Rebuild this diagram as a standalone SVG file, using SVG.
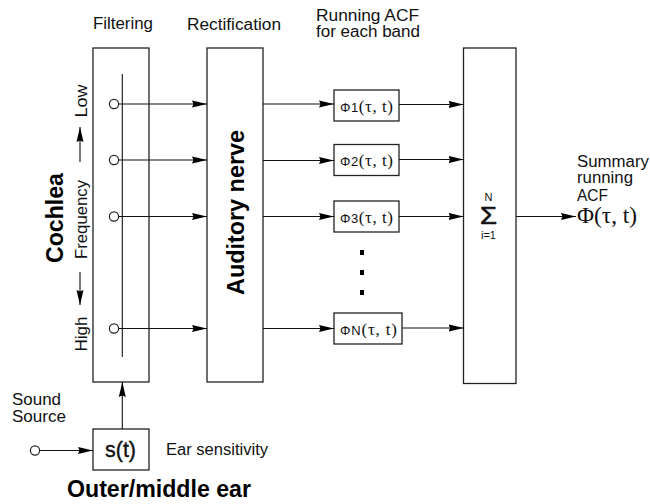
<svg xmlns="http://www.w3.org/2000/svg" width="650" height="504" viewBox="0 0 650 504">
<style>
.box{fill:#fff;stroke:#222;stroke-width:1.3}
.ln{stroke:#111;stroke-width:1.1;fill:none}
.cir{fill:#fff;stroke:#222;stroke-width:1.2}
.t{font-family:"Liberation Sans",Arial,sans-serif;font-size:16px;fill:#111}
.b{font-family:"Liberation Sans",Arial,sans-serif;font-weight:bold;font-size:23px;fill:#000}
.sf{font-family:"Liberation Sans",Arial,sans-serif;fill:#111}
.se{font-family:"Liberation Serif","Times New Roman",serif;fill:#111}
</style>
<defs>
<marker id="ah" viewBox="0 0 15 9" refX="15" refY="4.5" markerWidth="15" markerHeight="9" orient="auto" markerUnits="userSpaceOnUse">
<path d="M0,1 L15,4.5 L0,8 L1.5,4.5 z" fill="#000"/>
</marker>
</defs>
<rect width="650" height="504" fill="#fff"/>

<g id="labels">
<text class="t" x="93" y="29" textLength="60" lengthAdjust="spacingAndGlyphs">Filtering</text>
<text class="t" x="187" y="30" textLength="94" lengthAdjust="spacingAndGlyphs">Rectification</text>
<text class="t" x="316" y="20.5" textLength="103" lengthAdjust="spacingAndGlyphs">Running ACF</text>
<text class="t" x="316" y="37" textLength="104" lengthAdjust="spacingAndGlyphs">for each band</text>
<text class="t" x="577" y="166.5" textLength="72" lengthAdjust="spacingAndGlyphs">Summary</text>
<text class="t" x="577" y="183" textLength="56" lengthAdjust="spacingAndGlyphs">running</text>
<text class="t" x="577" y="201" textLength="31" lengthAdjust="spacingAndGlyphs">ACF</text>
<text class="se" x="577" y="222.5" font-size="23" textLength="60" lengthAdjust="spacingAndGlyphs">Φ(τ, t)</text>
<text class="b" transform="translate(62.5,218) rotate(-90)" text-anchor="middle" textLength="90" lengthAdjust="spacingAndGlyphs">Cochlea</text>
<text class="t" transform="translate(87.3,101) rotate(-90)" text-anchor="middle" font-size="15.5" textLength="33" lengthAdjust="spacingAndGlyphs">Low</text>
<text class="t" transform="translate(87.3,219.5) rotate(-90)" text-anchor="middle" font-size="15.5" textLength="79" lengthAdjust="spacingAndGlyphs">Frequency</text>
<text class="t" transform="translate(87.3,334) rotate(-90)" text-anchor="middle" font-size="15.5" textLength="35" lengthAdjust="spacingAndGlyphs">High</text>
<text class="t" x="12" y="404.5" textLength="49" lengthAdjust="spacingAndGlyphs">Sound</text>
<text class="t" x="12" y="421.5" textLength="54" lengthAdjust="spacingAndGlyphs">Source</text>
<text class="t" x="166" y="455" textLength="102" lengthAdjust="spacingAndGlyphs">Ear sensitivity</text>
<text class="b" x="67" y="497" font-size="22" textLength="184" lengthAdjust="spacingAndGlyphs">Outer/middle ear</text>
</g>

<g id="filter-bank">
<rect class="box" x="93" y="48" width="56" height="334"/>
<line class="ln" x1="122.3" y1="74" x2="122.3" y2="357"/>
<circle class="cir" cx="114" cy="104" r="4.6"/>
<circle class="cir" cx="114" cy="160" r="4.6"/>
<circle class="cir" cx="114" cy="216.5" r="4.6"/>
<circle class="cir" cx="114" cy="328.5" r="4.6"/>
</g>

<g id="auditory-nerve">
<rect class="box" x="207" y="48" width="56" height="334"/>
<text class="b" transform="translate(244.3,212.5) rotate(-90)" text-anchor="middle" textLength="165" lengthAdjust="spacingAndGlyphs">Auditory nerve</text>
</g>

<g id="acf1">
<rect class="box" x="334" y="90" width="65" height="31"/>
<text x="340" y="111.5" textLength="53" lengthAdjust="spacing"><tspan class="sf" font-size="13">Φ1</tspan><tspan class="se" font-size="17">(τ, t)</tspan></text>
</g>
<g id="acf2">
<rect class="box" x="334" y="144.5" width="65" height="31"/>
<text x="340" y="166" textLength="53" lengthAdjust="spacing"><tspan class="sf" font-size="13">Φ2</tspan><tspan class="se" font-size="17">(τ, t)</tspan></text>
</g>
<g id="acf3">
<rect class="box" x="334" y="201" width="65" height="31"/>
<text x="340" y="222.5" textLength="53" lengthAdjust="spacing"><tspan class="sf" font-size="13">Φ3</tspan><tspan class="se" font-size="17">(τ, t)</tspan></text>
</g>
<g id="ellipsis">
<rect x="360" y="250" width="4" height="5" fill="#000"/>
<rect x="360" y="270" width="4" height="5" fill="#000"/>
<rect x="360" y="290" width="4" height="5" fill="#000"/>
</g>
<g id="acfN">
<rect class="box" x="334" y="313" width="68" height="31"/>
<text x="340" y="334.5" textLength="57" lengthAdjust="spacing"><tspan class="sf" font-size="13">ΦN</tspan><tspan class="se" font-size="17">(τ, t)</tspan></text>
</g>

<g id="summation">
<rect class="box" x="463.5" y="48" width="52.5" height="335.5"/>
<text class="sf" x="488.5" y="200.5" font-size="11" text-anchor="middle">N</text>
<text class="sf" x="488.5" y="223.5" font-size="23" text-anchor="middle" stroke="#111" stroke-width="0.6" textLength="17" lengthAdjust="spacingAndGlyphs">Σ</text>
<text class="sf" x="488.5" y="238.5" font-size="11" text-anchor="middle">i=1</text>
</g>

<g id="outer-middle-ear">
<rect class="box" x="93" y="429" width="56" height="41"/>
<text class="sf" x="120.5" y="457" font-size="22" text-anchor="middle" stroke="#111" stroke-width="0.4" textLength="31" lengthAdjust="spacingAndGlyphs">s(t)</text>
</g>

<g id="sound-source">
<circle class="cir" cx="35" cy="450.5" r="4.6"/>
</g>

<g id="connectors">
<line class="ln" x1="118.6" y1="104" x2="207" y2="104" marker-end="url(#ah)"/>
<line class="ln" x1="118.6" y1="160" x2="207" y2="160" marker-end="url(#ah)"/>
<line class="ln" x1="118.6" y1="216.5" x2="207" y2="216.5" marker-end="url(#ah)"/>
<line class="ln" x1="118.6" y1="328.5" x2="207" y2="328.5" marker-end="url(#ah)"/>
<line class="ln" x1="263" y1="104" x2="334" y2="104" marker-end="url(#ah)"/>
<line class="ln" x1="263" y1="160.5" x2="334" y2="160.5" marker-end="url(#ah)"/>
<line class="ln" x1="263" y1="216.5" x2="334" y2="216.5" marker-end="url(#ah)"/>
<line class="ln" x1="263" y1="328.5" x2="334" y2="328.5" marker-end="url(#ah)"/>
<line class="ln" x1="399" y1="104.5" x2="463.5" y2="104.5" marker-end="url(#ah)"/>
<line class="ln" x1="399" y1="159.5" x2="463.5" y2="159.5" marker-end="url(#ah)"/>
<line class="ln" x1="399" y1="216.5" x2="463.5" y2="216.5" marker-end="url(#ah)"/>
<line class="ln" x1="402" y1="328" x2="463.5" y2="328" marker-end="url(#ah)"/>
<line class="ln" x1="516" y1="216.5" x2="576" y2="216.5" marker-end="url(#ah)"/>
<line class="ln" x1="39.6" y1="450.5" x2="93" y2="450.5" marker-end="url(#ah)"/>
<line class="ln" x1="122.3" y1="429" x2="122.3" y2="382" marker-end="url(#ah)"/>
<line class="ln" x1="80" y1="162" x2="80" y2="127" marker-end="url(#ah)"/>
<line class="ln" x1="80" y1="272" x2="80" y2="305" marker-end="url(#ah)"/>
</g>
</svg>
